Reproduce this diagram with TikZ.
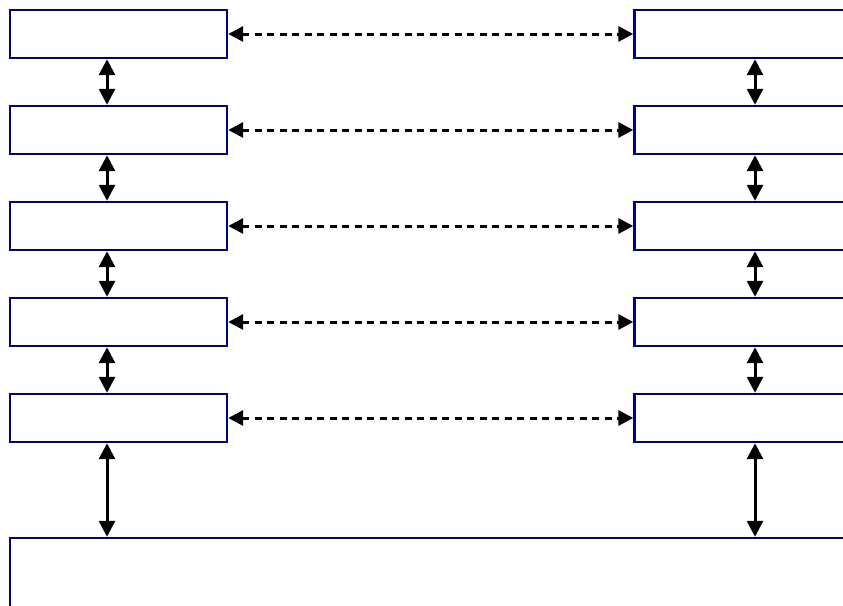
\documentclass[tikz,border=0pt]{standalone}
\usetikzlibrary{arrows.meta}
\definecolor{boxblue}{RGB}{0,0,128}
\begin{document}
\begin{tikzpicture}[x=1pt,y=-1pt,
  blk/.style={draw=boxblue,line width=2.4pt,fill=white},
  vlink/.style={line width=3pt,{Triangle[length=16pt,width=16pt]}-{Triangle[length=16pt,width=16pt]}},
  hlink/.style={line width=3pt,dash pattern=on 7pt off 5.5pt,{Triangle[length=15pt,width=15pt]}-{Triangle[length=15pt,width=15pt]}}]
\useasboundingbox (0,0) rectangle (843,605);
\foreach \i/\y in {1/10,2/106,3/202,4/298,5/394}{
  \draw[blk] (10,\y) rectangle (227,\y+48);
  \coordinate (L\i t) at (107,\y);
  \coordinate (L\i b) at (107,\y+48);
  \coordinate (L\i e) at (227,\y+24);
  \draw[blk] (634.5,\y) rectangle (860,\y+48);
  \coordinate (R\i t) at (755,\y);
  \coordinate (R\i b) at (755,\y+48);
  \coordinate (R\i w) at (634.5,\y+24);
}
\draw[blk] (10,538) rectangle (860,640);
\coordinate (BL) at (107,538);
\coordinate (BR) at (755,538);
\foreach \i in {1,...,5}{
  \draw[hlink,shorten <=1.2pt,shorten >=1.2pt] (L\i e) -- (R\i w);
}
\foreach \i/\j in {1/2,2/3,3/4,4/5}{
  \draw[vlink,shorten <=1.2pt,shorten >=1.2pt] (L\i b) -- (L\j t);
  \draw[vlink,shorten <=1.2pt,shorten >=1.2pt] (R\i b) -- (R\j t);
}
\draw[vlink,shorten <=1.2pt,shorten >=1.2pt] (L5b) -- (BL);
\draw[vlink,shorten <=1.2pt,shorten >=1.2pt] (R5b) -- (BR);
\end{tikzpicture}
\end{document}
